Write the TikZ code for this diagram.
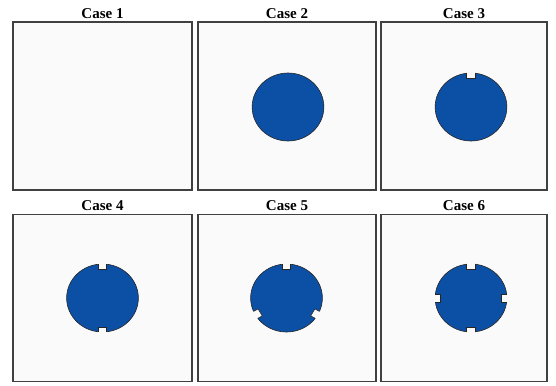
\documentclass[tikz,border=0pt]{standalone}
\usepackage{fontspec}
\setmainfont{Liberation Serif}
\definecolor{diskblue}{HTML}{0C50A6}
\definecolor{boxbg}{HTML}{FAFAFA}
\definecolor{boxedge}{HTML}{404040}
\begin{document}
\begin{tikzpicture}[x=1pt,y=-1pt,
  panel/.style={draw=boxedge,line width=1.2pt,fill=boxbg,inner sep=0pt,outer sep=0pt},
  ttl/.style={font=\fontsize{15}{17}\selectfont\bfseries,inner sep=0pt,anchor=base},
  disk/.style={fill=diskblue,draw=black!85,line width=0.6pt},
  notchfill/.style={fill=boxbg},
  notchline/.style={draw=black!85,line width=0.6pt}]
\fill[white] (0,0) rectangle (556,385);
\useasboundingbox (0,0) rectangle (556,385);
% panels
\node[panel,minimum width=179pt,minimum height=168pt] (p1) at (102.5,106) {};
\node[panel,minimum width=178pt,minimum height=168pt] (p2) at (287,106) {};
\node[panel,minimum width=166pt,minimum height=168pt] (p3) at (464,106) {};
\node[panel,minimum width=179pt,minimum height=167pt] (p4) at (102.5,298) {};
\node[panel,minimum width=178pt,minimum height=167pt] (p5) at (287,298) {};
\node[panel,minimum width=166pt,minimum height=167pt] (p6) at (464,298) {};
% titles
\node[ttl] (t1) at (102.5,18.5) {Case 1};
\node[ttl] (t2) at (287,18.5) {Case 2};
\node[ttl] (t3) at (464,18.5) {Case 3};
\node[ttl] (t4) at (102.5,210) {Case 4};
\node[ttl] (t5) at (287,210) {Case 5};
\node[ttl] (t6) at (464,210) {Case 6};
% disks
\newcommand{\mydisk}[3]{%
\begin{scope}[shift={(#1,#2)},xscale=1.055]
\path[disk] (0,0) circle (34);
\foreach \a in {#3}{%
  \fill[notchfill,rotate=\a] (28.8,-4) rectangle (35,4);
  \draw[notchline,rotate=\a] (33.8,-4) -- (28.8,-4) -- (28.8,4) -- (33.8,4);
}
\end{scope}}
\mydisk{288}{107}{}
\mydisk{471}{107}{90}
\mydisk{102.5}{298}{90,270}
\mydisk{286.5}{298}{90,210,330}
\mydisk{471}{298}{0,90,180,270}
\end{tikzpicture}
\end{document}
